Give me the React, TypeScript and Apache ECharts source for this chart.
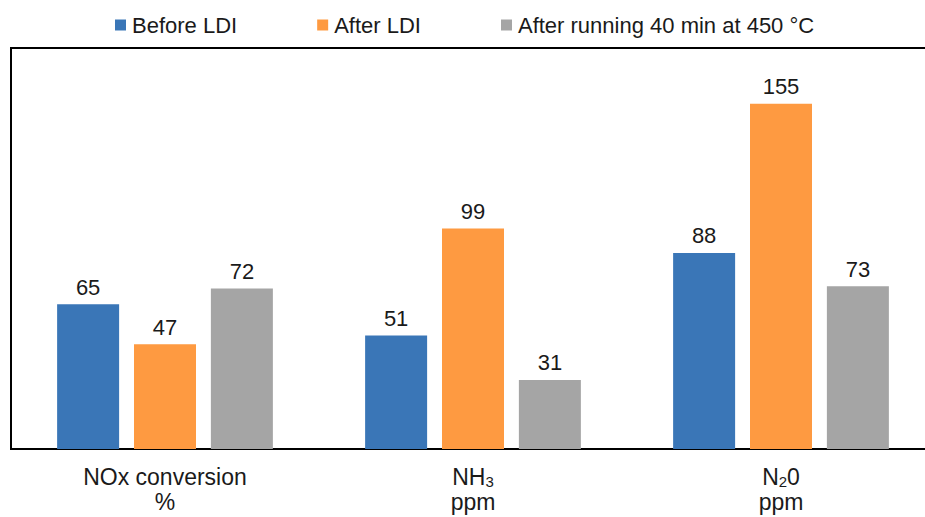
import React, { useEffect, useRef } from "react";
import * as echarts from "echarts";

const categories = ["NOx conversion\n%", "{n|NH}{s|3}\n{n|ppm}", "{n|N}{s|2}{n|0}\n{n|ppm}"];
const seriesNames = ["Before LDI", "After LDI", "After running 40 min at 450 °C"];
const beforeLDI = [65, 51, 88];
const afterLDI = [47, 99, 155];
const afterRunning = [72, 31, 73];
const colors = ["#3A76B7", "#FE9A41", "#A5A5A5"];

export default function App() {
  const ref = useRef<HTMLDivElement>(null);
  useEffect(() => {
    if (!ref.current) return;
    const chart = echarts.init(ref.current, undefined, { renderer: "svg" });
    const font = "Liberation Sans, Arial, sans-serif";
    const data = [beforeLDI, afterLDI, afterRunning];
    chart.setOption({
      animation: false,
      backgroundColor: "#ffffff",
      textStyle: { fontFamily: font },
      legend: {
        left: 110,
        top: 9,
        itemWidth: 11,
        itemHeight: 11,
        itemGap: 80,
        icon: "rect",
        textStyle: { fontSize: 22, color: "#1a1a1a", fontFamily: font, padding: [0, 0, 0, 1] },
        data: seriesNames,
      },
      grid: {
        left: 11,
        width: 924,
        top: 48,
        bottom: 68,
        show: true,
        borderColor: "#000000",
        borderWidth: 2,
        containLabel: false,
      },
      xAxis: {
        type: "category",
        data: categories,
        axisLine: { show: true, lineStyle: { color: "#000000", width: 2 } },
        axisTick: { show: false },
        axisLabel: {
          fontSize: 23,
          color: "#1a1a1a",
          fontFamily: font,
          lineHeight: 25,
          margin: 15,
          interval: 0,
          rich: {
            n: { fontSize: 23, color: "#1a1a1a", fontFamily: font, lineHeight: 25 },
            s: { fontSize: 15, color: "#1a1a1a", fontFamily: font, lineHeight: 14, verticalAlign: "bottom" },
          },
        },
      },
      yAxis: {
        type: "value",
        min: 0,
        max: 180,
        show: false,
        splitLine: { show: false },
      },
      series: seriesNames.map((name, i) => ({
        name,
        type: "bar",
        data: data[i],
        barWidth: 62,
        barGap: "24%",
        itemStyle: { color: colors[i] },
        label: {
          show: true,
          position: "top",
          distance: 6,
          fontSize: 22,
          color: "#1a1a1a",
          fontFamily: font,
        },
      })),
    });
    return () => chart.dispose();
  }, []);
  return (
    <div style={{ position: "fixed", left: 0, top: 0, width: 925, height: 517, overflow: "hidden", background: "#fff" }}>
      <div ref={ref} style={{ position: "absolute", left: 0, top: 0, width: 950, height: 517 }} />
    </div>
  );
}
